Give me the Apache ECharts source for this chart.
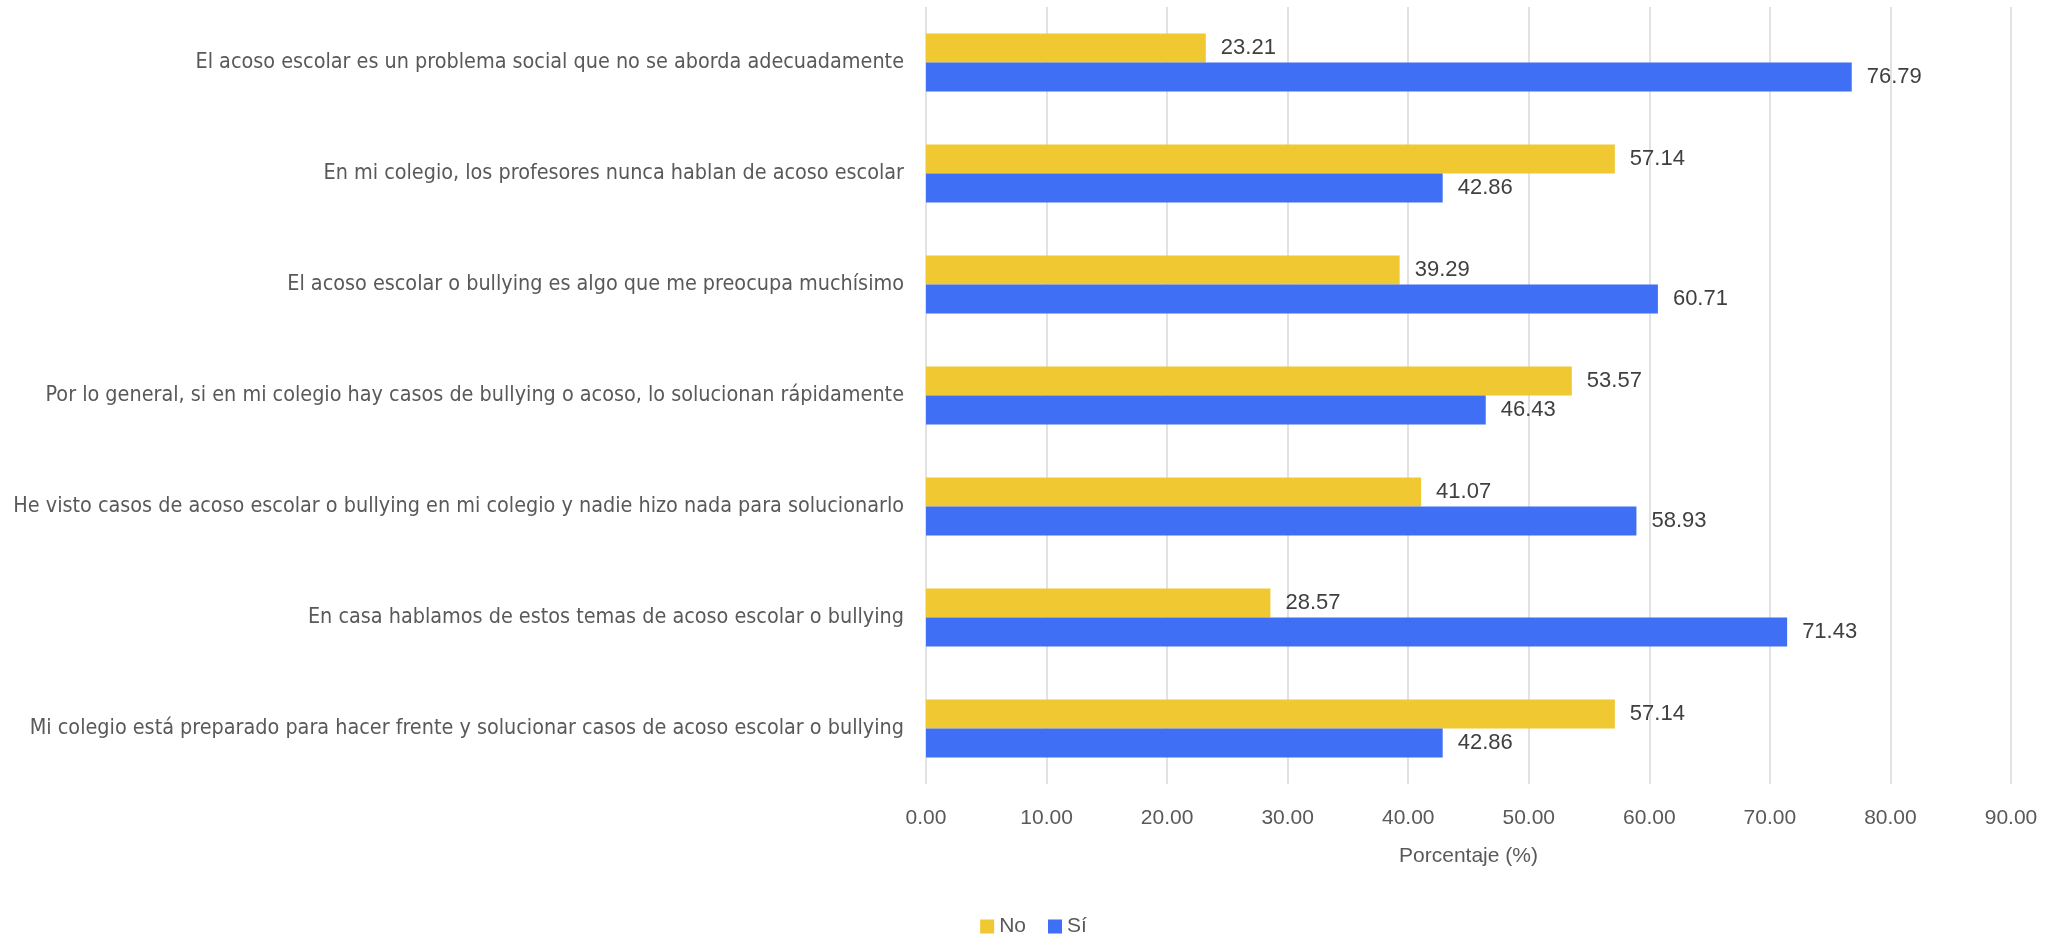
<!DOCTYPE html>
<html>
<head>
<meta charset="utf-8">
<script src="https://cdn.jsdelivr.net/npm/echarts@6/dist/echarts.min.js"></script>
<style>html,body{margin:0;padding:0;background:#fff}#c{width:2067px;height:935px}</style>
</head>
<body>
<div id="c"></div>
<script>
const categories = [
  "El acoso escolar es un problema social que no se aborda adecuadamente",
  "En mi colegio, los profesores nunca hablan de acoso escolar",
  "El acoso escolar o bullying es algo que me preocupa muchísimo",
  "Por lo general, si en mi colegio hay casos de bullying o acoso, lo solucionan rápidamente",
  "He visto casos de acoso escolar o bullying en mi colegio y nadie hizo nada para solucionarlo",
  "En casa hablamos de estos temas de acoso escolar o bullying",
  "Mi colegio está preparado para hacer frente y solucionar casos de acoso escolar o bullying"
];
const noValues = [23.21, 57.14, 39.29, 53.57, 41.07, 28.57, 57.14];
const siValues = [76.79, 42.86, 60.71, 46.43, 58.93, 71.43, 42.86];
const seriesNames = ["No", "Sí"];
const axisTitle = "Porcentaje (%)";

const chart = echarts.init(document.getElementById('c'), null, {renderer: 'canvas'});
const numFont = "'Liberation Sans', Arial, sans-serif";
const catFont = "'Liberation Sans Narrow', 'DejaVu Sans Condensed', sans-serif";
const label = {
  show: true, position: 'right', distance: 15,
  color: '#404040', fontSize: 22, fontFamily: numFont,
  formatter: p => p.value.toFixed(2)
};
chart.setOption({
  animation: false,
  backgroundColor: '#fff',
  grid: {left: 926, right: 56, top: 7, bottom: 151, containLabel: false, outerBoundsMode: 'none'},
  legend: {
    bottom: -2, left: 'center', icon: 'rect', itemWidth: 14, itemHeight: 14, itemGap: 22, padding: 0,
    textStyle: {color: '#595959', fontSize: 21, fontFamily: numFont},
    data: seriesNames
  },
  xAxis: {
    type: 'value', min: 0, max: 90, interval: 10,
    name: axisTitle, nameLocation: 'middle', nameGap: 62,
    nameTextStyle: {color: '#595959', fontSize: 21, fontFamily: numFont},
    axisLine: {show: false}, axisTick: {show: false},
    axisLabel: {color: '#595959', fontSize: 21, fontFamily: numFont, margin: 24, formatter: v => v.toFixed(2)},
    splitLine: {lineStyle: {color: '#d9d9d9', width: 1.5}}
  },
  yAxis: {
    type: 'category', data: categories, inverse: true,
    axisLine: {show: false}, axisTick: {show: false},
    axisLabel: {color: '#595959', fontSize: 21.4, fontFamily: catFont, margin: 22}
  },
  series: [
    {name: seriesNames[0], type: 'bar', data: noValues, barWidth: 29, barGap: '0%',
     itemStyle: {color: '#EFC832'}, label: label},
    {name: seriesNames[1], type: 'bar', data: siValues, barWidth: 29, barGap: '0%',
     itemStyle: {color: '#3F6FF4'}, label: label}
  ]
});
</script>
</body>
</html>
